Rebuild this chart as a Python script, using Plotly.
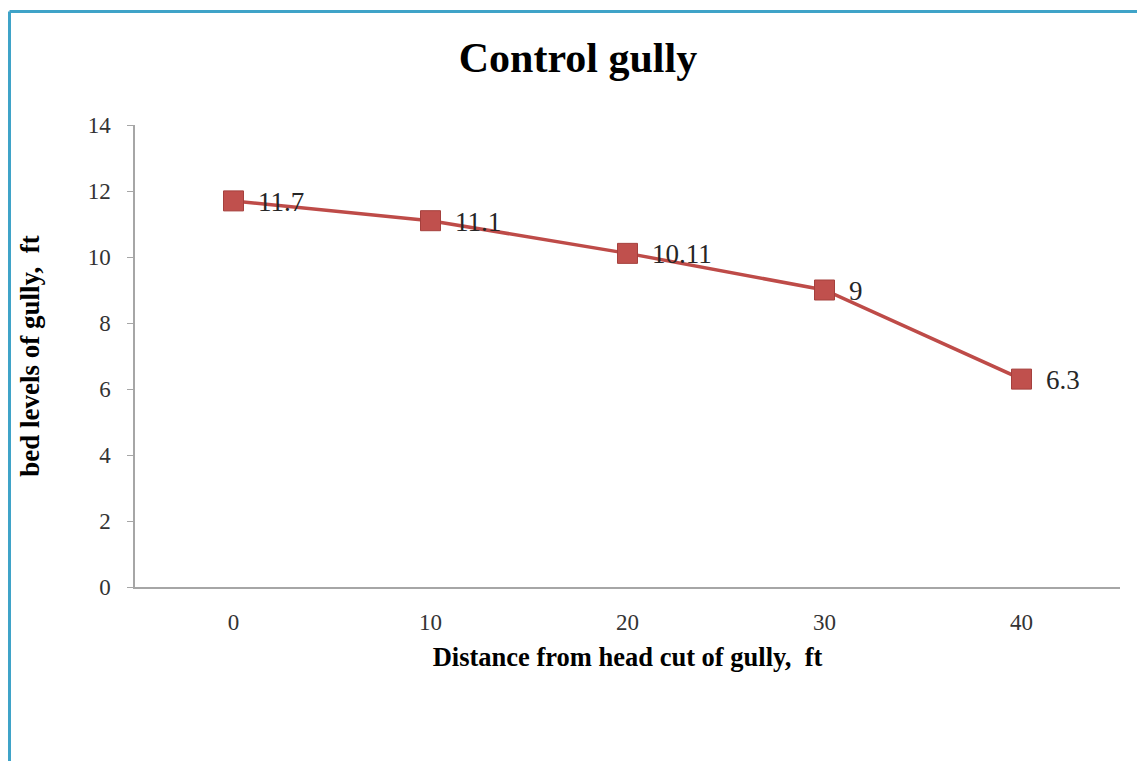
import plotly.graph_objects as go

# Bed level survey along the control gully
distance_ft = ["0", "10", "20", "30", "40"]
bed_level_ft = [11.7, 11.1, 10.11, 9, 6.3]
bed_level_labels = ["11.7", "11.1", "10.11", "9", "6.3"]
y_ticks = [0, 2, 4, 6, 8, 10, 12, 14]

SERIF = "Liberation Serif, Times New Roman, serif"

fig = go.Figure()
fig.add_trace(go.Scatter(
    x=distance_ft,
    y=bed_level_ft,
    mode="lines+markers",
    line=dict(color="#BE4B48", width=3.5),
    marker=dict(symbol="square", size=20, color="#C0504D",
                line=dict(color="#A5403D", width=1)),
    cliponaxis=False,
    showlegend=False,
))

# Value labels to the right of each point (category axis -> position index)
for i, (yv, lab) in enumerate(zip(bed_level_ft, bed_level_labels)):
    fig.add_annotation(x=i, y=yv, text=lab, showarrow=False,
                       xanchor="left", yanchor="middle", xshift=22, yshift=-1,
                       font=dict(family=SERIF, size=27, color="#262626"))

# Page frame: blue rule along the top and left edges
L, R, T, B = 135, 17, 125, 174
W, H = 1137 - L - R, 761 - T - B
def px(x):
    return (x - L) / W
def py(y):
    return (761 - B - y) / H

fig.add_shape(type="line", xref="paper", yref="paper",
              x0=px(9.5), x1=px(1137), y0=py(11.5), y1=py(11.5),
              line=dict(color="#3FA3C8", width=3), layer="below")
fig.add_shape(type="line", xref="paper", yref="paper",
              x0=px(9.5), x1=px(9.5), y0=py(11.5), y1=py(761),
              line=dict(color="#3FA3C8", width=3), layer="below")

fig.update_layout(
    width=1137, height=761,
    margin=dict(l=L, r=R, t=T, b=B),
    paper_bgcolor="white", plot_bgcolor="white",
    title=dict(text="<b>Control gully</b>", x=(578 - L) / W, xref="paper",
               xanchor="center", y=1 - 57 / 761, yanchor="middle",
               font=dict(family=SERIF, size=42, color="#000000")),
    xaxis=dict(
        type="category", range=[-0.5, 4.5], showgrid=False, zeroline=False,
        showline=True, linecolor="#A6A6A6", linewidth=1.5,
        ticks="", ticklabelstandoff=14,
        tickfont=dict(family=SERIF, size=23, color="#333333"),
        title=dict(text="<b>Distance from head cut of gully,  ft</b>",
                   font=dict(family=SERIF, size=26.5, color="#000000"),
                   standoff=13),
    ),
    yaxis=dict(
        range=[0, 14], tickvals=y_ticks, showgrid=False, zeroline=False,
        showline=True, linecolor="#A6A6A6", linewidth=1.5,
        ticks="outside", ticklen=6, tickcolor="#A6A6A6", tickwidth=1,
        ticklabelstandoff=12,
        tickfont=dict(family=SERIF, size=23, color="#333333"),
        title=dict(text="<b>bed levels of gully,  ft</b>",
                   font=dict(family=SERIF, size=27, color="#000000"),
                   standoff=40),
    ),
)

fig.write_html("out.html")
